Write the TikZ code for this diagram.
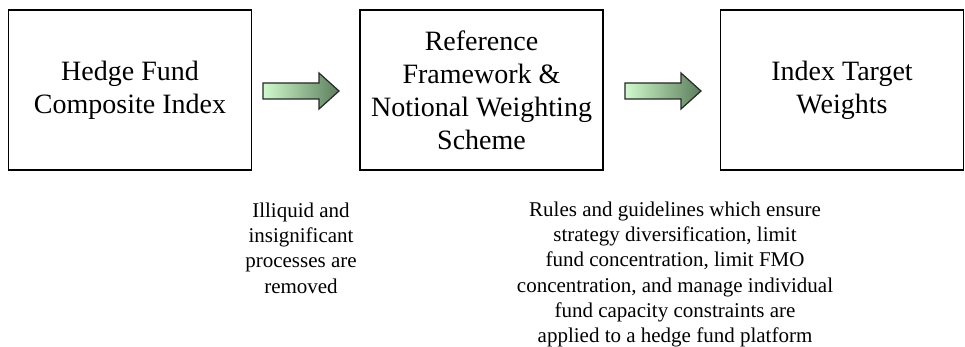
\documentclass[tikz,border=0pt]{standalone}
\usepackage{fontspec}
\setmainfont{Liberation Serif}
\usetikzlibrary{calc}
\definecolor{arrL}{RGB}{208,250,204}
\definecolor{arrR}{RGB}{92,126,92}
\begin{document}
\begin{tikzpicture}[x=1pt,y=-1pt,
  box/.style={draw=black,line width=1.6pt,minimum width=243pt,minimum height=160pt,inner sep=0pt,align=center,
    font={\fontsize{28}{33}\selectfont}},
  note/.style={align=center,inner sep=0pt,anchor=north,font={\fontsize{21}{25.3}\selectfont}},
  blockarrow/.style={draw=black!85,line width=1.2pt,left color=arrL,right color=arrR,line join=miter}]
\useasboundingbox (0,0) rectangle (965,347);
\node[box] (b1) at (130,90) {Hedge Fund\\Composite Index};
\node[box] (b2) at (481.5,90) {Reference\\Framework \&\\Notional Weighting\\Scheme};
\node[box] (b3) at (842,90) {Index Target\\Weights};
% block arrows
\coordinate (a1) at (263,91);
\coordinate (a2) at (625,91);
\foreach \c in {a1,a2}{
  \shade[blockarrow] ($(\c)+(0,-8)$) -- ++(56,0) -- ++(0,-10) -- ++(20,18) -- ++(-20,18) -- ++(0,-10) -- ++(-56,0) -- cycle;
}
\node[note] (n1) at (301,202.5) {Illiquid and\\insignificant\\processes are\\removed};
\node[note] (n2) at (675,201.5) {Rules and guidelines which ensure\\strategy diversification, limit\\fund concentration, limit FMO\\concentration, and manage individual\\fund capacity constraints are\\applied to a hedge fund platform};
\end{tikzpicture}
\end{document}
